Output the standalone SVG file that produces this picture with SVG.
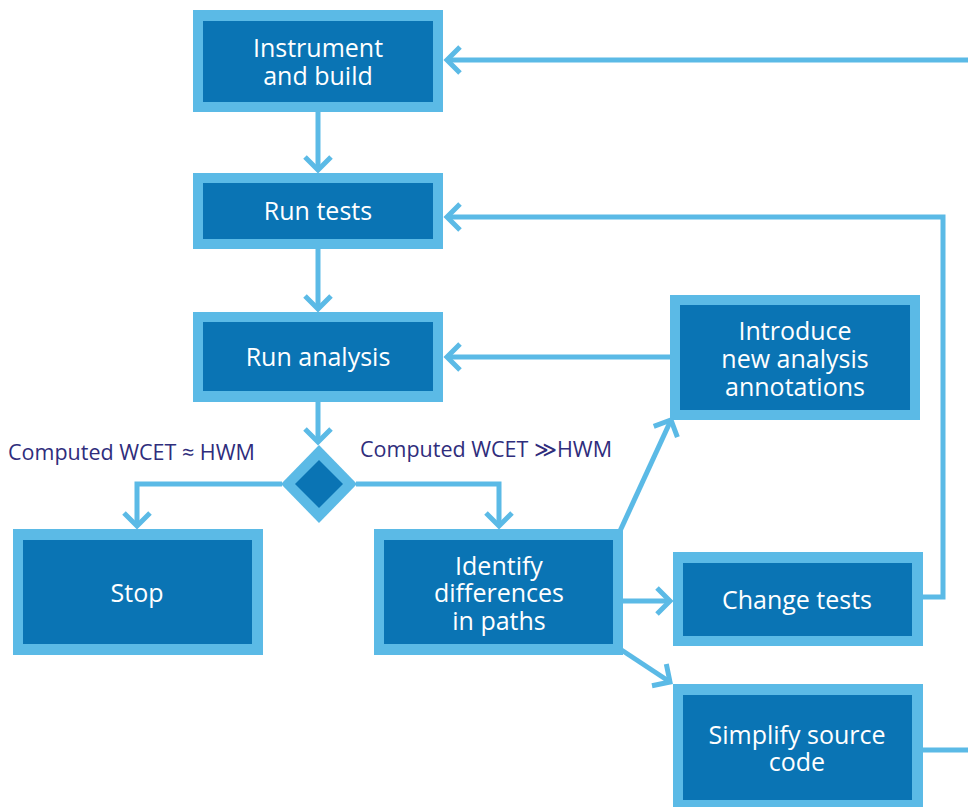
<svg xmlns="http://www.w3.org/2000/svg" width="968" height="807" viewBox="0 0 968 807">
<style>
.outer{fill:#5BBAE6}
.inner{fill:#0A74B4}
.t{font-family:"Open Sans","Noto Sans","Liberation Sans",sans-serif;font-size:25px;fill:#ffffff;text-anchor:middle}
.lbl{font-family:"Open Sans","Noto Sans","Liberation Sans",sans-serif;font-size:21.5px;fill:#2F2D7C}
.c{fill:none;stroke:#5BBAE6;stroke-width:5}
</style>
<defs>
<marker id="ah" markerUnits="userSpaceOnUse" orient="auto" refX="0" refY="0" markerWidth="30" markerHeight="30" style="overflow:visible">
<path d="M-13,-13 L0,0 L-13,13" fill="none" stroke="#5BBAE6" stroke-width="5" stroke-linejoin="miter"/>
</marker>
</defs>
<rect width="968" height="807" fill="#ffffff"/>
<g id="connectors">
<path class="c" d="M318,112 V170" marker-end="url(#ah)"/>
<path class="c" d="M318,249 V309" marker-end="url(#ah)"/>
<path class="c" d="M318,402 V442" marker-end="url(#ah)"/>
<path class="c" d="M282,484 H137 V526" marker-end="url(#ah)"/>
<path class="c" d="M356,484 H499 V526" marker-end="url(#ah)"/>
<path class="c" d="M670,357 H447" marker-end="url(#ah)"/>
<path class="c" d="M623,601 H670" marker-end="url(#ah)"/>
<path class="c" d="M620,531 L671,420" marker-end="url(#ah)"/>
<path class="c" d="M620,649 L670,682" marker-end="url(#ah)"/>
<path class="c" d="M923,597 H943 V217 H447" marker-end="url(#ah)"/>
<path class="c" d="M968,60 H447" marker-end="url(#ah)"/>
<path class="c" d="M923,750 H968"/>
</g>
<g id="instrument">
<rect class="outer" x="193" y="10" width="250" height="102"/>
<rect class="inner" x="203" y="21" width="230" height="81"/>
<text class="t" x="318" y="57">Instrument</text>
<text class="t" x="318" y="85">and build</text>
</g>
<g id="run-tests">
<rect class="outer" x="193" y="173" width="250" height="76"/>
<rect class="inner" x="203" y="183" width="230" height="56"/>
<text class="t" x="318" y="220">Run tests</text>
</g>
<g id="run-analysis">
<rect class="outer" x="193" y="312" width="250" height="90"/>
<rect class="inner" x="203" y="322" width="230" height="69"/>
<text class="t" x="318" y="366">Run analysis</text>
</g>
<g id="decision">
<polygon class="outer" points="319,445 357,484 319,523 281,484"/>
<polygon class="inner" points="319,460 343,484 319,508 295,484"/>
</g>
<g id="labels">
<text class="lbl" x="8" y="460">Computed WCET ≈ HWM</text>
<text class="lbl" x="360" y="457">Computed WCET ≫HWM</text>
</g>
<g id="introduce">
<rect class="outer" x="670" y="295" width="250" height="125"/>
<rect class="inner" x="680" y="305" width="230" height="105"/>
<text class="t" x="795" y="340">Introduce</text>
<text class="t" x="795" y="368">new analysis</text>
<text class="t" x="795" y="396">annotations</text>
</g>
<g id="stop">
<rect class="outer" x="13" y="529" width="250" height="126"/>
<rect class="inner" x="23" y="540" width="229" height="104"/>
<text class="t" x="137" y="602">Stop</text>
</g>
<g id="identify">
<rect class="outer" x="374" y="529" width="249" height="126"/>
<rect class="inner" x="384" y="540" width="229" height="104"/>
<text class="t" x="499" y="575">Identify</text>
<text class="t" x="499" y="602">differences</text>
<text class="t" x="499" y="630">in paths</text>
</g>
<g id="change-tests">
<rect class="outer" x="673" y="552" width="250" height="94"/>
<rect class="inner" x="683" y="563" width="229" height="73"/>
<text class="t" x="797" y="609">Change tests</text>
</g>
<g id="simplify">
<rect class="outer" x="673" y="684" width="250" height="126"/>
<rect class="inner" x="683" y="695" width="229" height="105"/>
<text class="t" x="797" y="744">Simplify source</text>
<text class="t" x="797" y="771">code</text>
</g>
</svg>
